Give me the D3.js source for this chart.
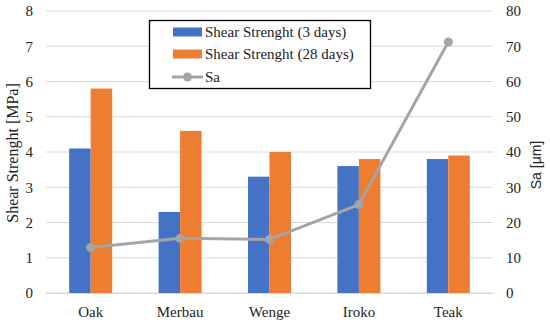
<!DOCTYPE html>
<html><head><meta charset="utf-8">
<script src="https://cdn.jsdelivr.net/npm/d3@7"></script>
<style>body{margin:0;background:#fff;} svg{display:block;}</style>
</head><body>
<svg id="c" width="550" height="325"></svg>
<script>
const categories = ["Oak","Merbau","Wenge","Iroko","Teak"];
const shear3 = [4.1, 2.3, 3.3, 3.6, 3.8];
const shear28 = [5.8, 4.6, 4.0, 3.8, 3.9];
const sa = [12.9, 15.5, 15.2, 25.1, 71.2];
const leftTicks = [0,1,2,3,4,5,6,7,8];
const rightTicks = [0,10,20,30,40,50,60,70,80];
const seriesNames = ["Shear Strenght (3 days)","Shear Strenght (28 days)","Sa"];

const svg = d3.select("#c");
const serif = "'Liberation Serif','DejaVu Serif',serif";
const L = 46, R = 493, T = 11, B = 293;
const x = d3.scaleBand().domain(categories).range([L, R]).padding(0);
const yL = d3.scaleLinear().domain([0,8]).range([B, T]);
const yR = d3.scaleLinear().domain([0,80]).range([B, T]);
const bw = 21.5;

// gridlines
svg.append("g").selectAll("line").data(leftTicks).join("line")
  .attr("x1", L).attr("x2", R).attr("y1", d=>yL(d)).attr("y2", d=>yL(d))
  .attr("stroke", "#d9d9d9").attr("stroke-width", 1);

// left axis
const gl = svg.append("g").attr("transform", `translate(${L},0)`)
  .call(d3.axisLeft(yL).tickValues(leftTicks).tickSize(0).tickPadding(13));
gl.select(".domain").remove();
gl.selectAll("text").attr("font-family", serif).attr("font-size", 15).attr("fill", "#222");

// right axis
const gr = svg.append("g").attr("transform", `translate(${R},0)`)
  .call(d3.axisRight(yR).tickValues(rightTicks).tickSize(0).tickPadding(13));
gr.select(".domain").remove();
gr.selectAll("text").attr("font-family", serif).attr("font-size", 15).attr("fill", "#222");

// bars
const cx = c => x(c) + x.bandwidth()/2;
svg.append("g").selectAll("rect").data(categories).join("rect")
  .attr("x", c => cx(c) - bw).attr("width", bw)
  .attr("y", (c,i) => yL(shear3[i])).attr("height", (c,i) => yL(0) - yL(shear3[i]))
  .attr("fill", "#4472c4");
svg.append("g").selectAll("rect").data(categories).join("rect")
  .attr("x", c => cx(c)).attr("width", bw)
  .attr("y", (c,i) => yL(shear28[i])).attr("height", (c,i) => yL(0) - yL(shear28[i]))
  .attr("fill", "#ed7d31");

// bottom axis labels
const gb = svg.append("g").attr("transform", `translate(0,${B})`)
  .call(d3.axisBottom(x).tickSize(0).tickPadding(13));
gb.select(".domain").attr("stroke", "#d9d9d9");
gb.selectAll("text").attr("font-family", serif).attr("font-size", 15).attr("fill", "#222");

// line
const line = d3.line().x((d,i) => cx(categories[i])).y(d => yR(d));
svg.append("path").datum(sa).attr("d", line).attr("fill","none")
  .attr("stroke", "#a5a5a5").attr("stroke-width", 3).attr("stroke-linejoin","round");
svg.append("g").selectAll("circle").data(sa).join("circle")
  .attr("cx", (d,i) => cx(categories[i])).attr("cy", d => yR(d)).attr("r", 4.5)
  .attr("fill", "#a5a5a5");

// axis titles
svg.append("text").attr("transform", "translate(18,153) rotate(-90)")
  .attr("text-anchor","middle").attr("font-family", serif).attr("font-size", 16)
  .attr("fill","#222").text("Shear Strenght [MPa]");
svg.append("text").attr("transform", "translate(537,165) rotate(-90)")
  .attr("text-anchor","middle").attr("dominant-baseline","middle").attr("font-family", "'Liberation Sans',Arial,sans-serif").attr("font-size", 14)
  .attr("fill","#222").text("Sa [μm]");

// legend
const lg = svg.append("g");
lg.append("rect").attr("x", 149.5).attr("y", 20.5).attr("width", 221).attr("height", 68)
  .attr("fill", "#fff").attr("stroke", "#000").attr("stroke-width", 1.3);
const rows = [32, 54, 77];
const colors = ["#4472c4", "#ed7d31", "#a5a5a5"];
seriesNames.forEach((n,i) => {
  if (i < 2) {
    lg.append("rect").attr("x", 173).attr("y", rows[i]-4.5).attr("width", 29).attr("height", 9).attr("fill", colors[i]);
  } else {
    lg.append("line").attr("x1", 172).attr("x2", 203).attr("y1", rows[i]).attr("y2", rows[i])
      .attr("stroke", colors[i]).attr("stroke-width", 3);
    lg.append("circle").attr("cx", 187.5).attr("cy", rows[i]).attr("r", 4.5).attr("fill", colors[i]);
  }
  lg.append("text").attr("x", 205).attr("y", rows[i]).attr("dominant-baseline","central")
    .attr("font-family", serif).attr("font-size", 15).attr("fill", "#222").text(n);
});
</script>
</body></html>
